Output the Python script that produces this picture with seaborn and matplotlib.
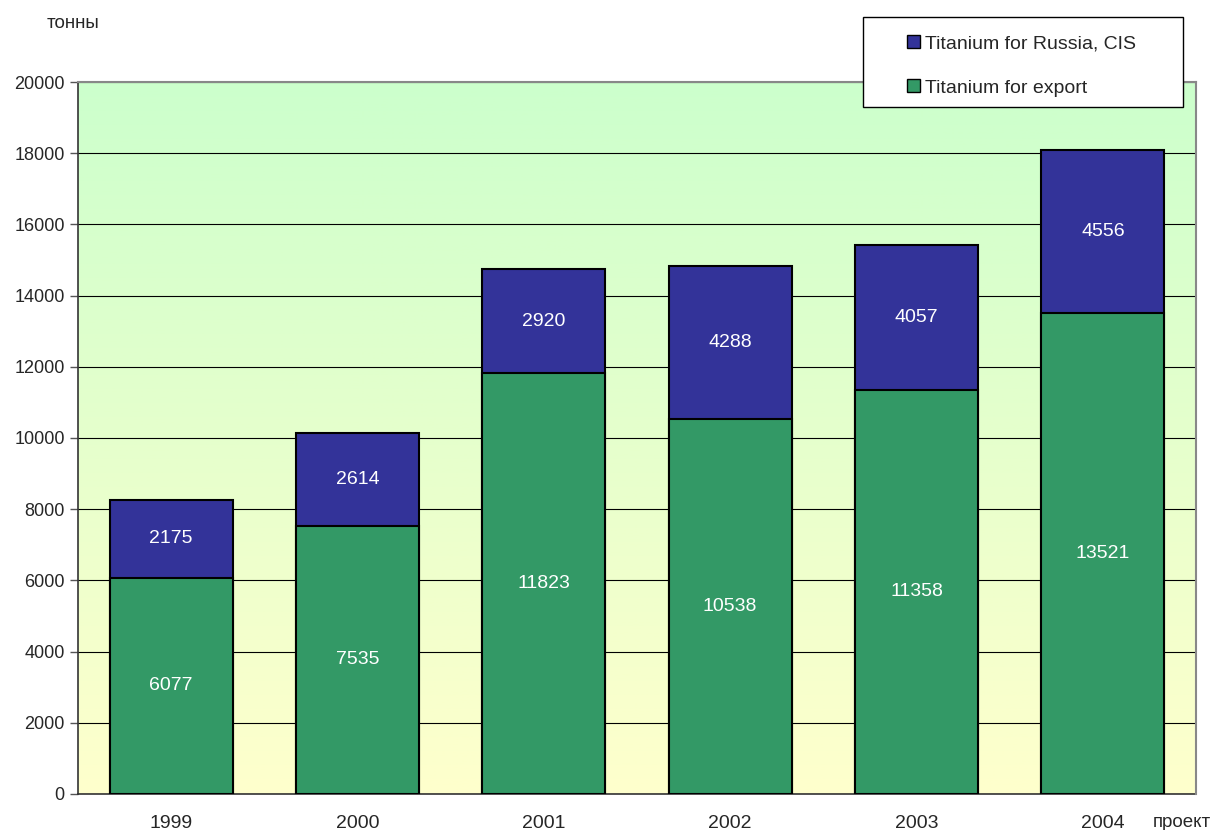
import numpy as np
import pandas as pd
import matplotlib
matplotlib.use('Agg')
import matplotlib.pyplot as plt
import seaborn as sns
from matplotlib.patches import Patch, Rectangle

years = ['1999', '2000', '2001', '2002', '2003', '2004']
export = [6077, 7535, 11823, 10538, 11358, 13521]
russia = [2175, 2614, 2920, 4288, 4057, 4556]

df = pd.DataFrame({'year': years, 'export': export, 'russia': russia})
df['total'] = df['export'] + df['russia']

sns.set_style('white')
plt.rcParams['font.family'] = ['Liberation Sans', 'DejaVu Sans']

green = '#339966'
blue = '#333399'

fig = plt.figure(figsize=(12.13, 8.30), dpi=100)
ax = fig.add_axes([0.0643, 0.0434, 0.9217, 0.8578])

# фон с градиентом
grad = np.linspace(0, 1, 256).reshape(-1, 1)
c_top = np.array([0xCC, 0xFF, 0xCC]) / 255
c_bot = np.array([0xFF, 0xFF, 0xCC]) / 255
img = c_bot + (c_top - c_bot) * grad
ax.imshow(img[:, None, :].repeat(2, axis=1), aspect='auto', origin='lower',
          extent=[0, 1, 0, 1], transform=ax.transAxes, zorder=0)

sns.barplot(data=df, x='year', y='total', color=blue, saturation=1, width=0.66,
            edgecolor='black', linewidth=1.5, ax=ax, zorder=3)
sns.barplot(data=df, x='year', y='export', color=green, saturation=1, width=0.66,
            edgecolor='black', linewidth=1.5, ax=ax, zorder=4)

for i, row in df.iterrows():
    ax.text(i, row['export'] / 2, str(row['export']), ha='center', va='center',
            color='white', fontsize=14, zorder=5)
    ax.text(i, row['export'] + row['russia'] / 2, str(row['russia']), ha='center',
            va='center', color='white', fontsize=14, zorder=5)

ax.set_xlim(-0.5, 5.5)
ax.set_ylim(0, 20000)
ax.set_yticks(range(0, 20001, 2000))
ax.yaxis.grid(True, color='black', linewidth=0.8)
for line in ax.get_ygridlines():
    line.set_zorder(1)
ax.set_xticks(range(6))
ax.set_xticklabels(years, fontsize=14)
ax.set_xticks(np.arange(-0.5, 6, 1), minor=True)
ax.tick_params(axis='x', which='major', length=0, pad=15)
ax.tick_params(axis='x', which='minor', length=6, width=1, color='#555555', direction='out')
ax.tick_params(axis='y', length=6, width=1, color='#555555', direction='out', labelsize=13, left=True)
ax.set_xlabel('')
ax.set_ylabel('')

for side in ['left', 'bottom']:
    ax.spines[side].set_color('#333333')
    ax.spines[side].set_linewidth(1.2)
for side in ['right', 'top']:
    ax.spines[side].set_color('#888888')
    ax.spines[side].set_linewidth(1.5)
    ax.spines[side].set_zorder(6)

fig.text(0.0387, 0.972, 'тонны', fontsize=13.5, ha='left', va='center')
fig.text(0.998, 0.0096, 'проект', fontsize=13.5, ha='right', va='center')

# рамка легенды
box = Rectangle((0.7115, 0.8711), 0.2638, 0.1084, transform=fig.transFigure,
                facecolor='white', edgecolor='black', linewidth=1, zorder=9)
fig.patches.append(box)

handles = [Patch(facecolor=blue, edgecolor='black', label='Titanium for Russia, CIS'),
           Patch(facecolor=green, edgecolor='black', label='Titanium for export')]
leg = fig.legend(handles=handles, loc='upper left', bbox_to_anchor=(0.748, 0.958),
                 fontsize=14, frameon=False, borderpad=0, labelspacing=1.4,
                 handlelength=0.65, handleheight=0.65, handletextpad=0.25,
                 borderaxespad=0)
leg.set_zorder(10)

fig.savefig('out.png', dpi=100, facecolor='white')
